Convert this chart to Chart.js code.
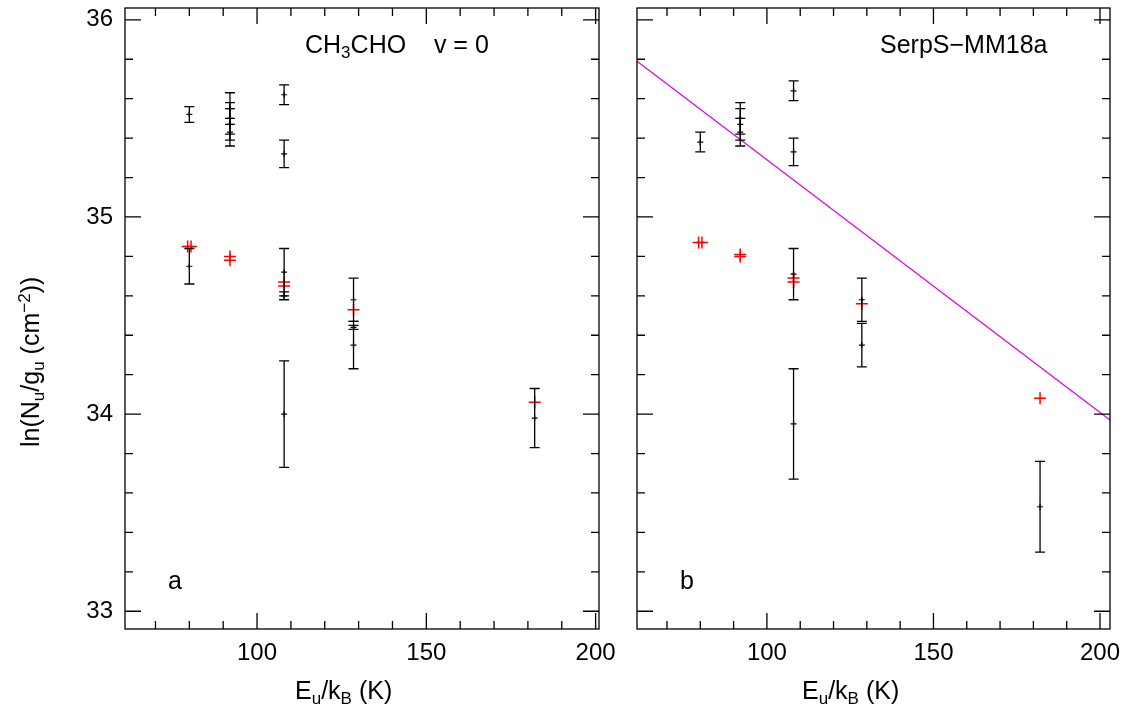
<!DOCTYPE html>
<html><head><meta charset="utf-8">
<script src="https://cdn.jsdelivr.net/npm/chart.js@4"></script>
<style>
body{margin:0;background:#fff;width:1125px;height:718px;position:relative;overflow:hidden;font-family:"Liberation Sans",sans-serif}
canvas{position:absolute;top:0}
.t{position:absolute;font-size:25px;color:#000;white-space:nowrap}
.t sub{font-size:17px;vertical-align:-5px}
.t sup{font-size:17px;vertical-align:9px}
</style></head><body>
<canvas id="c1" style="left:0" width="637" height="718"></canvas>
<canvas id="c2" style="left:610px" width="515" height="718"></canvas>
<div class="t" style="left:305px;top:30px">CH<sub>3</sub>CHO&nbsp;&nbsp;&nbsp;&nbsp;v = 0</div>
<div class="t" style="left:880px;top:30px">SerpS&minus;MM18a</div>
<div class="t" style="left:168px;top:566px">a</div>
<div class="t" style="left:680px;top:566px">b</div>
<div class="t" style="left:295px;top:676px">E<sub>u</sub>/k<sub>B</sub> (K)</div>
<div class="t" style="left:802px;top:676px">E<sub>u</sub>/k<sub>B</sub> (K)</div>
<div class="t" style="left:-98px;top:300px;transform:rotate(-90deg);transform-origin:center;width:260px">ln(N<sub>u</sub>/g<sub>u</sub> (cm<sup>&minus;2</sup>))</div>
<script>
// panel a
const aX = [80, 92, 92, 92, 92, 108, 108, 108, 108, 128.5, 128.5, 182];
const aY = [35.52, 35.55, 35.50, 35.47, 35.43, 35.62, 35.32, 34.72, 34.00, 34.58, 34.35, 33.98];
const aErr = [0.04, 0.08, 0.08, 0.08, 0.07, 0.05, 0.07, 0.12, 0.27, 0.11, 0.12, 0.15];
const aX2 = [80, 108, 128.5];
const aY2 = [34.75, 34.60, 34.44];
const aErr2 = [0.09, 0.02, 0.01];
const aRedX = [79.5, 80.5, 92, 92, 108, 108, 128.5, 182];
const aRedY = [34.85, 34.85, 34.80, 34.78, 34.67, 34.65, 34.53, 34.06];
// panel b
const bX = [80, 92, 92, 92, 108, 108, 108, 108, 128.5, 128.5, 182];
const bY = [35.38, 35.50, 35.47, 35.43, 35.64, 35.33, 34.71, 33.95, 34.58, 34.35, 33.53];
const bErr = [0.05, 0.08, 0.08, 0.07, 0.05, 0.07, 0.13, 0.28, 0.11, 0.11, 0.23];
const bRedX = [79.5, 80.5, 92, 92, 108, 108, 128.5, 182];
const bRedY = [34.87, 34.87, 34.81, 34.80, 34.69, 34.67, 34.56, 34.08];
const fitX = [61, 203];
const fitY = [35.79, 33.97];
const yTicks = [33, 34, 35, 36];
const xTicks = [100, 150, 200];
const xMin = 61, xMax = 201, xMaxB = 203, yMin = 32.91, yMax = 36.06;

const pts = (xs, ys) => xs.map((x, i) => ({x: x, y: ys[i]}));

const errPlugin = {
  id: 'err',
  afterDatasetsDraw(chart, args, opts) {
    const ctx = chart.ctx, xs = chart.scales.x, ys = chart.scales.y, a = chart.chartArea;
    ctx.save();
    ctx.strokeStyle = '#000'; ctx.lineWidth = 1.3;
    chart.data.datasets.forEach(ds => {
      if (!ds.errs) return;
      ds.data.forEach((p, i) => {
        const px = xs.getPixelForValue(p.x);
        const y1 = ys.getPixelForValue(p.y + ds.errs[i]), y2 = ys.getPixelForValue(p.y - ds.errs[i]);
        ctx.beginPath();
        ctx.moveTo(px, y1); ctx.lineTo(px, y2);
        ctx.moveTo(px - 5, y1); ctx.lineTo(px + 5, y1);
        ctx.moveTo(px - 5, y2); ctx.lineTo(px + 5, y2);
        ctx.stroke();
      });
    });
    // frame and inward ticks
    ctx.strokeRect(a.left, a.top, a.right - a.left, a.bottom - a.top);
    ctx.beginPath();
    for (let v = 60; v <= xs.max; v += 10) {
      if (v < xs.min) continue;
      const px = xs.getPixelForValue(v), L = v % 50 === 0 ? 16 : 8;
      ctx.moveTo(px, a.bottom); ctx.lineTo(px, a.bottom - L);
      ctx.moveTo(px, a.top); ctx.lineTo(px, a.top + L);
    }
    for (let k = 165; k <= 180; k++) {
      const v = k / 5;
      if (v < ys.min || v > ys.max) continue;
      const py = ys.getPixelForValue(v), L = k % 5 === 0 ? 16 : 8;
      ctx.moveTo(a.left, py); ctx.lineTo(a.left + L, py);
      ctx.moveTo(a.right, py); ctx.lineTo(a.right - L, py);
    }
    ctx.stroke();
    if (opts.yLabels) {
      ctx.fillStyle = '#000';
      ctx.font = '24px "Liberation Sans"';
      ctx.textAlign = 'right'; ctx.textBaseline = 'middle';
      yTicks.forEach(v => ctx.fillText(String(v), a.left - 12, ys.getPixelForValue(v)));
    }
    ctx.restore();
  }
};

function make(id, black, extra, red, fit, yw, pad, xmax) {
  const ds = [
    {data: black.d, errs: black.e, pointStyle: 'cross', radius: 3, borderColor: '#000', borderWidth: 1.2, showLine: false},
    {data: red, pointStyle: 'cross', radius: 6, borderColor: '#f00', borderWidth: 1.5, showLine: false}
  ];
  if (extra) ds.push({data: extra.d, errs: extra.e, pointStyle: 'cross', radius: 3, borderColor: '#000', borderWidth: 1.2, showLine: false});
  if (fit) ds.push({data: fit, showLine: true, borderColor: '#e000e0', borderWidth: 1.3, pointRadius: 0});
  new Chart(document.getElementById(id), {
    type: 'scatter',
    data: {datasets: ds},
    options: {
      responsive: false, animation: false,
      layout: {padding: pad},
      plugins: {legend: {display: false}, tooltip: {enabled: false}, err: {yLabels: yw > 100}},
      scales: {
        x: {type: 'linear', min: xMin, max: xmax,
          afterBuildTicks: s => { s.ticks = xTicks.map(v => ({value: v})); },
          afterFit: s => { s.height = 89; },
          grid: {display: false}, border: {display: false},
          ticks: {color: '#000', font: {family: 'Liberation Sans', size: 24}, padding: 2}},
        y: {min: yMin, max: yMax,
          afterFit: s => { s.width = yw; },
          grid: {display: false}, border: {display: false},
          ticks: {display: false}}
      }
    },
    plugins: [errPlugin]
  });
}

make('c1', {d: pts(aX, aY), e: aErr}, {d: pts(aX2, aY2), e: aErr2}, pts(aRedX, aRedY), null, 125,
  {left: 0, top: 8, right: 38, bottom: 0}, xMax);
make('c2', {d: pts(bX, bY), e: bErr}, null, pts(bRedX, bRedY), pts(fitX, fitY), 27,
  {left: 0, top: 8, right: 15, bottom: 0}, xMaxB);
</script>
</body></html>
